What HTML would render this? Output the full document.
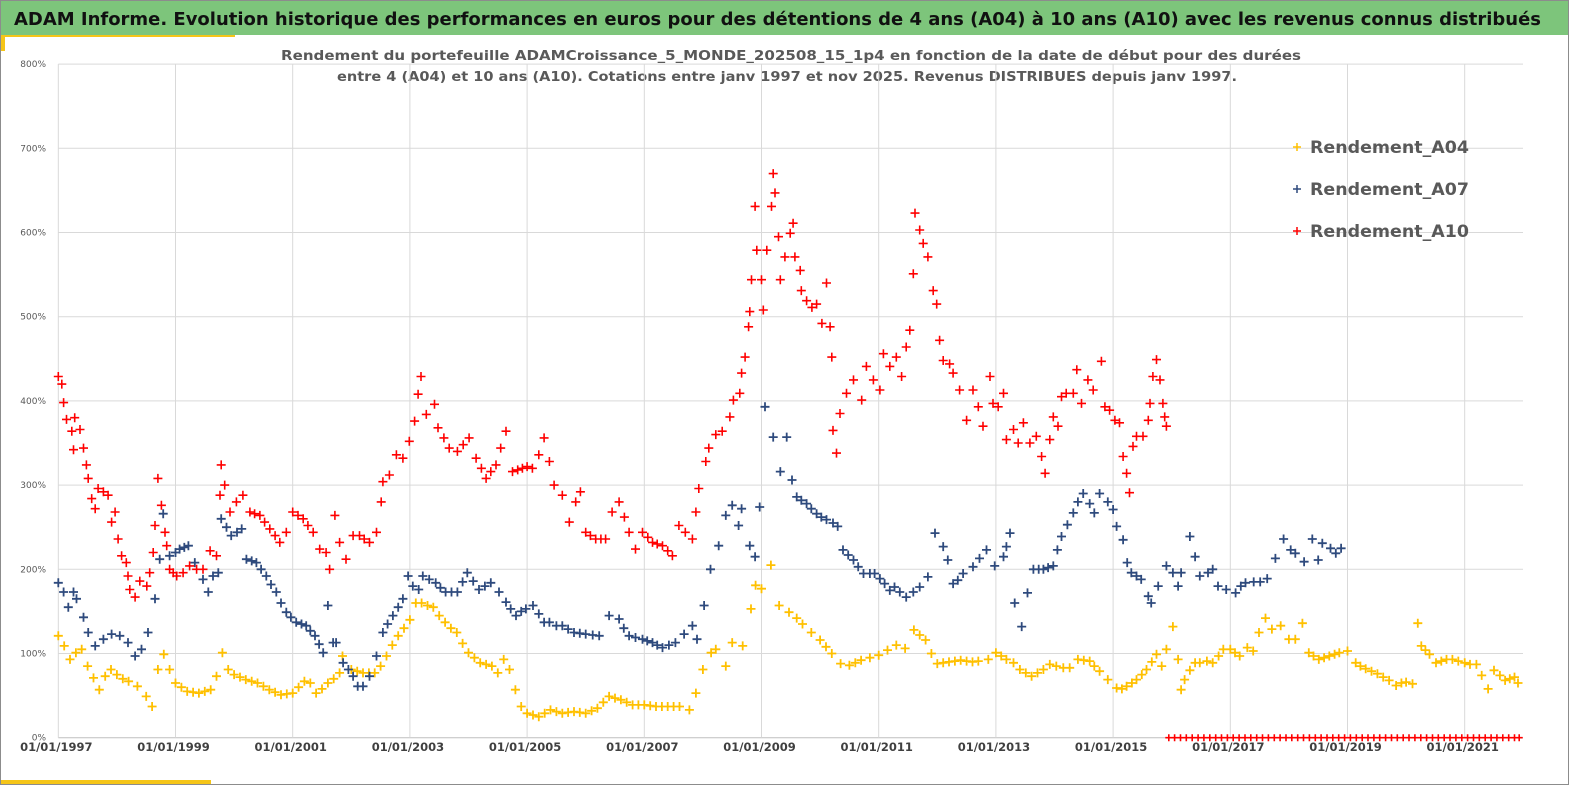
<!DOCTYPE html>
<html><head><meta charset="utf-8">
<style>
html,body{margin:0;padding:0;background:#fff;}
svg{display:block;}
</style></head>
<body>
<svg id="chart" width="1569" height="785" viewBox="0 0 1569 785" xmlns="http://www.w3.org/2000/svg">
  <rect x="0" y="0" width="1569" height="785" fill="#ffffff" stroke="#8c8c8c" stroke-width="2"/>
  <rect x="1" y="1" width="1567" height="34" fill="#7dc57b"/>
  <rect x="1" y="35" width="234" height="2" fill="#f5c518"/>
  <rect x="1" y="35" width="4" height="16" fill="#f5c518"/>
  <rect x="1" y="780" width="210" height="4" fill="#f5c518"/>
  <text x="14" y="25" font-family="DejaVu Sans, Liberation Sans, sans-serif" font-weight="bold" font-size="18" fill="#111" textLength="1527" lengthAdjust="spacingAndGlyphs">ADAM Informe. Evolution historique des performances en euros pour des détentions de 4 ans (A04) à 10 ans (A10) avec les revenus connus distribués</text>
  <text x="281" y="60" font-family="DejaVu Sans, Liberation Sans, sans-serif" font-weight="bold" font-size="13.5" fill="#595959" textLength="1020" lengthAdjust="spacingAndGlyphs">Rendement du portefeuille ADAMCroissance_5_MONDE_202508_15_1p4  en fonction de la date de début pour des durées</text>
  <text x="337" y="81" font-family="DejaVu Sans, Liberation Sans, sans-serif" font-weight="bold" font-size="13.5" fill="#595959" textLength="900" lengthAdjust="spacingAndGlyphs">entre 4 (A04) et 10 ans (A10). Cotations entre janv 1997 et nov 2025. Revenus DISTRIBUES depuis janv 1997.</text>
  <g id="grid"></g>
  <g id="yticks"></g>
  <g id="xticks"></g>
  <g id="series"></g>
  <g id="legend"></g>
</svg>
<script>
const yTicks = [0,100,200,300,400,500,600,700,800];
const xTickYears = [1997,1999,2001,2003,2005,2007,2009,2011,2013,2015,2017,2019,2021];
const xTickLabels = ["01/01/1997","01/01/1999","01/01/2001","01/01/2003","01/01/2005","01/01/2007","01/01/2009","01/01/2011","01/01/2013","01/01/2015","01/01/2017","01/01/2019","01/01/2021"];
const seriesNames = ["Rendement_A04","Rendement_A07","Rendement_A10"];

const a04Dates = [1997.0,1997.1,1997.2,1997.3,1997.4,1997.5,1997.6,1997.7,1997.8,1997.9,1998.0,1998.1,1998.2,1998.35,1998.5,1998.6,1998.7,1998.8,1998.9,1999.0,1999.1,1999.2,1999.3,1999.4,1999.5,1999.6,1999.7,1999.8,1999.9,2000.0,2000.1,2000.2,2000.3,2000.4,2000.5,2000.6,2000.7,2000.8,2000.9,2001.0,2001.1,2001.2,2001.3,2001.4,2001.5,2001.6,2001.7,2001.8,2001.85,2002.0,2002.1,2002.2,2002.3,2002.4,2002.5,2002.6,2002.7,2002.8,2002.9,2003.0,2003.1,2003.2,2003.3,2003.4,2003.5,2003.6,2003.7,2003.8,2003.9,2004.0,2004.1,2004.2,2004.3,2004.4,2004.5,2004.6,2004.7,2004.8,2004.9,2005.0,2005.1,2005.2,2005.3,2005.4,2005.5,2005.6,2005.7,2005.8,2005.9,2006.0,2006.1,2006.2,2006.3,2006.4,2006.5,2006.6,2006.7,2006.8,2006.9,2007.0,2007.1,2007.2,2007.3,2007.4,2007.5,2007.6,2007.77,2007.88,2008.0,2008.14,2008.22,2008.39,2008.5,2008.68,2008.82,2008.9,2009.0,2009.16,2009.3,2009.47,2009.6,2009.7,2009.85,2010.0,2010.1,2010.2,2010.35,2010.5,2010.6,2010.7,2010.85,2011.0,2011.15,2011.3,2011.45,2011.6,2011.7,2011.8,2011.9,2012.0,2012.1,2012.2,2012.3,2012.4,2012.5,2012.6,2012.7,2012.87,2013.0,2013.09,2013.18,2013.3,2013.41,2013.51,2013.61,2013.71,2013.81,2013.92,2014.03,2014.15,2014.26,2014.4,2014.5,2014.6,2014.68,2014.77,2014.91,2015.06,2015.15,2015.23,2015.32,2015.4,2015.49,2015.57,2015.66,2015.74,2015.83,2015.91,2016.02,2016.11,2016.16,2016.22,2016.31,2016.4,2016.48,2016.6,2016.7,2016.8,2016.88,2017.0,2017.08,2017.16,2017.29,2017.39,2017.49,2017.6,2017.71,2017.86,2018.0,2018.11,2018.23,2018.34,2018.42,2018.51,2018.6,2018.69,2018.78,2018.86,2019.0,2019.14,2019.22,2019.31,2019.41,2019.51,2019.61,2019.71,2019.83,2019.92,2020.0,2020.11,2020.2,2020.26,2020.33,2020.4,2020.51,2020.6,2020.69,2020.79,2020.89,2021.0,2021.09,2021.2,2021.29,2021.4,2021.5,2021.6,2021.69,2021.77,2021.85,2021.91];
const a04Values = [121,109,93,101,105,85,71,57,73,81,75,70,67,61,49,37,81,99,81,65,60,55,54,53,55,57,73,101,81,75,72,69,67,65,61,57,54,51,52,53,60,67,65,53,58,65,70,77,97,81,79,77,77,77,85,97,110,121,130,140,160,160,157,155,145,137,130,125,112,101,95,89,87,85,77,93,81,57,37,29,27,25,29,33,31,29,30,31,30,29,32,35,42,49,47,45,42,39,39,39,38,37,37,37,37,37,33,53,81,101,105,85,113,109,153,181,177,205,157,149,142,135,125,116,108,100,88,86,89,92,95,98,104,110,106,128,122,116,100,88,89,90,91,92,91,90,91,93,101,97,93,89,81,77,73,77,81,87,85,83,83,93,92,91,85,79,69,59,58,61,65,69,75,81,90,99,85,105,132,93,57,69,80,89,89,91,89,97,105,105,101,97,107,103,125,142,129,133,117,117,136,101,97,93,95,97,99,101,103,89,85,82,79,76,72,68,62,65,66,64,136,109,104,99,89,91,93,93,91,89,87,87,74,58,80,74,68,70,72,65,60];

const a07Dates = [1997.0,1997.09,1997.17,1997.26,1997.31,1997.43,1997.51,1997.63,1997.77,1997.91,1998.05,1998.19,1998.31,1998.42,1998.53,1998.65,1998.73,1998.79,1998.9,1999.0,1999.07,1999.15,1999.22,1999.33,1999.47,1999.56,1999.64,1999.73,1999.78,1999.87,1999.95,2000.05,2000.13,2000.21,2000.3,2000.38,2000.46,2000.55,2000.63,2000.72,2000.8,2000.89,2000.97,2001.06,2001.15,2001.23,2001.3,2001.38,2001.45,2001.52,2001.6,2001.69,2001.74,2001.86,2001.95,2002.03,2002.11,2002.2,2002.31,2002.43,2002.54,2002.62,2002.71,2002.8,2002.88,2002.97,2003.05,2003.15,2003.22,2003.33,2003.44,2003.52,2003.61,2003.71,2003.81,2003.9,2003.98,2004.08,2004.18,2004.28,2004.38,2004.52,2004.64,2004.72,2004.81,2004.9,2004.98,2005.1,2005.2,2005.29,2005.38,2005.5,2005.6,2005.7,2005.8,2005.9,2006.0,2006.12,2006.23,2006.4,2006.57,2006.65,2006.74,2006.85,2006.97,2007.05,2007.14,2007.22,2007.31,2007.42,2007.53,2007.68,2007.82,2007.9,2008.02,2008.13,2008.27,2008.39,2008.5,2008.61,2008.66,2008.8,2008.89,2008.97,2009.06,2009.2,2009.32,2009.43,2009.52,2009.6,2009.68,2009.77,2009.85,2009.94,2010.02,2010.11,2010.22,2010.3,2010.39,2010.48,2010.57,2010.65,2010.74,2010.85,2010.93,2011.02,2011.1,2011.19,2011.27,2011.36,2011.47,2011.59,2011.7,2011.84,2011.96,2012.1,2012.18,2012.27,2012.35,2012.44,2012.61,2012.72,2012.84,2012.98,2013.13,2013.18,2013.24,2013.32,2013.44,2013.54,2013.64,2013.73,2013.81,2013.89,2013.98,2014.05,2014.12,2014.22,2014.32,2014.4,2014.49,2014.6,2014.68,2014.77,2014.91,2015.0,2015.06,2015.17,2015.24,2015.31,2015.4,2015.48,2015.6,2015.65,2015.77,2015.91,2016.02,2016.11,2016.16,2016.31,2016.4,2016.48,2016.62,2016.7,2016.79,2016.93,2017.09,2017.18,2017.26,2017.4,2017.51,2017.63,2017.77,2017.91,2018.03,2018.11,2018.26,2018.4,2018.5,2018.57,2018.71,2018.8,2018.89];
const a07Values = [184,173,155,173,165,143,125,109,117,123,121,113,97,105,125,165,212,266,216,220,224,226,228,208,188,173,192,196,260,250,240,244,248,212,210,208,200,192,182,173,160,149,143,137,135,133,127,121,111,101,157,113,113,89,81,73,61,61,73,97,125,135,145,155,165,192,180,176,192,188,184,178,173,173,173,185,196,186,176,180,184,173,161,153,145,150,153,157,147,137,137,133,133,129,125,124,123,122,121,145,141,130,121,119,117,115,113,110,107,110,113,123,133,117,157,200,228,264,276,252,272,228,215,274,393,357,316,357,306,286,282,278,272,266,262,259,255,251,223,217,211,203,195,195,195,189,183,175,179,173,167,173,179,191,243,227,211,183,187,195,203,213,223,204,215,227,243,160,132,172,200,200,200,202,204,223,239,253,267,280,290,278,267,290,280,271,251,235,208,196,192,188,168,160,180,204,196,180,196,239,215,192,196,200,180,176,172,180,184,185,185,189,213,236,223,219,209,236,211,231,225,219,225,244,229];

const a10Dates = [1997.0,1997.06,1997.09,1997.14,1997.23,1997.26,1997.28,1997.37,1997.43,1997.48,1997.51,1997.57,1997.63,1997.68,1997.77,1997.85,1997.91,1997.97,1998.02,1998.08,1998.16,1998.19,1998.22,1998.31,1998.39,1998.51,1998.56,1998.62,1998.65,1998.7,1998.76,1998.82,1998.85,1998.9,1998.96,1999.02,1999.13,1999.24,1999.36,1999.47,1999.59,1999.7,1999.76,1999.78,1999.84,1999.93,2000.04,2000.15,2000.27,2000.35,2000.44,2000.52,2000.61,2000.7,2000.78,2000.89,2001.0,2001.09,2001.18,2001.26,2001.35,2001.46,2001.57,2001.63,2001.72,2001.8,2001.91,2002.03,2002.14,2002.22,2002.31,2002.43,2002.51,2002.54,2002.65,2002.77,2002.88,2002.99,2003.08,2003.14,2003.19,2003.28,2003.42,2003.48,2003.58,2003.67,2003.81,2003.91,2004.01,2004.13,2004.22,2004.3,2004.38,2004.47,2004.55,2004.64,2004.75,2004.84,2004.92,2005.0,2005.09,2005.2,2005.29,2005.38,2005.46,2005.6,2005.72,2005.83,2005.91,2006.0,2006.08,2006.17,2006.26,2006.34,2006.45,2006.57,2006.66,2006.74,2006.85,2006.97,2007.06,2007.14,2007.22,2007.31,2007.4,2007.48,2007.59,2007.7,2007.82,2007.88,2007.93,2008.05,2008.1,2008.22,2008.33,2008.46,2008.52,2008.63,2008.66,2008.72,2008.78,2008.8,2008.83,2008.89,2008.92,2009.0,2009.03,2009.09,2009.17,2009.2,2009.23,2009.29,2009.32,2009.4,2009.49,2009.54,2009.57,2009.66,2009.68,2009.77,2009.86,2009.94,2010.03,2010.11,2010.17,2010.2,2010.22,2010.28,2010.34,2010.45,2010.57,2010.71,2010.79,2010.91,2011.02,2011.08,2011.19,2011.3,2011.39,2011.47,2011.53,2011.59,2011.62,2011.7,2011.76,2011.84,2011.93,2011.99,2012.04,2012.1,2012.21,2012.27,2012.38,2012.5,2012.61,2012.7,2012.78,2012.9,2012.95,2013.04,2013.13,2013.18,2013.3,2013.38,2013.47,2013.58,2013.69,2013.78,2013.84,2013.92,2013.98,2014.06,2014.12,2014.2,2014.32,2014.38,2014.46,2014.57,2014.66,2014.8,2014.86,2014.94,2015.03,2015.11,2015.17,2015.23,2015.28,2015.34,2015.4,2015.51,2015.6,2015.63,2015.68,2015.74,2015.8,2015.85,2015.88,2015.91];
const a10Values = [429,420,398,378,364,342,380,366,344,324,308,284,272,296,292,288,256,268,236,216,208,192,176,167,186,180,196,220,252,308,276,244,228,200,196,192,196,204,200,200,222,216,288,324,300,268,280,288,268,266,264,256,248,240,232,244,268,264,260,252,244,224,220,200,264,232,212,240,240,236,232,244,280,304,312,336,332,352,376,408,429,384,396,368,356,344,340,348,356,332,320,308,316,324,344,364,316,318,320,322,320,336,356,328,300,288,256,280,292,244,240,236,236,236,268,280,262,244,224,244,238,232,230,228,222,216,252,244,236,268,296,328,344,360,364,381,401,409,433,452,488,506,544,631,579,544,508,579,631,670,647,595,544,571,599,611,571,555,531,519,511,515,492,540,488,452,365,338,385,409,425,401,441,425,413,456,441,452,429,464,484,551,623,603,587,571,531,515,472,448,444,433,413,377,413,393,370,429,397,393,409,354,366,350,374,350,358,334,314,354,381,370,405,409,409,437,397,425,413,447,393,389,377,374,334,314,291,346,358,358,377,397,429,449,425,397,381,370];

const a10ZeroDates = [2015.95,2016.05,2016.15,2016.25,2016.35,2016.45,2016.55,2016.65,2016.75,2016.85,2016.95,2017.05,2017.15,2017.25,2017.35,2017.45,2017.55,2017.65,2017.75,2017.85,2017.95,2018.05,2018.15,2018.25,2018.35,2018.45,2018.55,2018.65,2018.75,2018.85,2018.95,2019.05,2019.15,2019.25,2019.35,2019.45,2019.55,2019.65,2019.75,2019.85,2019.95,2020.05,2020.15,2020.25,2020.35,2020.45,2020.55,2020.65,2020.75,2020.85,2020.95,2021.05,2021.15,2021.25,2021.35,2021.45,2021.55,2021.65,2021.75,2021.85,2021.93];
const a10ZeroValues = [0,0,0,0,0,0,0,0,0,0,0,0,0,0,0,0,0,0,0,0,0,0,0,0,0,0,0,0,0,0,0,0,0,0,0,0,0,0,0,0,0,0,0,0,0,0,0,0,0,0,0,0,0,0,0,0,0,0,0,0,0];

const NS = "http://www.w3.org/2000/svg";
const PLOT_L = 58.3, PLOT_R = 1523, PX_PER_YEAR = 58.6;
const Y0 = 737.7, PX_PER_PCT = 0.842;
function xScale(yr){ return PLOT_L + (yr - 1997) * PX_PER_YEAR; }
function yScale(v){ return Y0 - v * PX_PER_PCT; }
function mk(tag, attrs){ const e = document.createElementNS(NS, tag); for (const k in attrs) e.setAttribute(k, attrs[k]); return e; }

const grid = document.getElementById('grid');
yTicks.forEach(function(v){
  const l = mk('line', {x1: PLOT_L, x2: PLOT_R, y1: yScale(v), y2: yScale(v), stroke: v === 0 ? '#bfbfbf' : '#d9d9d9', 'stroke-width': 1});
  
  
  grid.appendChild(l);
});
xTickYears.forEach(function(yr){
  const l = mk('line', {x1: xScale(yr), x2: xScale(yr), y1: yScale(800), y2: yScale(0), stroke: '#d9d9d9', 'stroke-width': 1});
  
  
  grid.appendChild(l);
});

const yt = document.getElementById('yticks');
yTicks.forEach(function(v){
  const t = mk('text', {x: 46, y: yScale(v) + 3, 'text-anchor': 'end', 'font-family': 'DejaVu Sans, Liberation Sans, sans-serif', 'font-size': 9, fill: '#595959'});
  t.textContent = v + '%';
  
  
  yt.appendChild(t);
});
const xt = document.getElementById('xticks');
xTickYears.forEach(function(yr, i){
  const t = mk('text', {x: xScale(yr) - 2, y: 751, 'text-anchor': 'middle', 'font-family': 'DejaVu Sans, Liberation Sans, sans-serif', 'font-weight': 'bold', 'font-size': 11.5, fill: '#404040'});
  t.textContent = xTickLabels[i];
  
  
  xt.appendChild(t);
});

function plusPath(dates, values, half){
  let d = '';
  for (let i = 0; i < dates.length; i++){
    const x = xScale(dates[i]), y = yScale(values[i]);
    d += 'M' + (x - half).toFixed(1) + ' ' + y.toFixed(1) + 'h' + (2 * half) + 'M' + x.toFixed(1) + ' ' + (y - half).toFixed(1) + 'v' + (2 * half);
  }
  return d;
}
const ser = document.getElementById('series');
const p4 = mk('path', {d: plusPath(a04Dates, a04Values, 4.5), stroke: '#ffc000', 'stroke-width': 1.8, fill: 'none'});


ser.appendChild(p4);
const p7 = mk('path', {d: plusPath(a07Dates, a07Values, 4.5), stroke: '#2e4a7d', 'stroke-width': 1.8, fill: 'none'});


ser.appendChild(p7);
const p10 = mk('path', {d: plusPath(a10Dates, a10Values, 4.5), stroke: '#ff0000', 'stroke-width': 1.6, fill: 'none'});


ser.appendChild(p10);
const p10z = mk('path', {d: plusPath(a10ZeroDates, a10ZeroValues, 3.5), stroke: '#ff0000', 'stroke-width': 1.6, fill: 'none'});


ser.appendChild(p10z);

const legendColors = ['#ffc000', '#2e4a7d', '#ff0000'];
const legendY = [147, 189, 231];
const lg = document.getElementById('legend');
seriesNames.forEach(function(n, i){
  const g = mk('g', {});
  
  
  const m = mk('path', {d: 'M1293 ' + legendY[i] + 'h8M1297 ' + (legendY[i] - 4) + 'v8', stroke: legendColors[i], 'stroke-width': 1.5});
  
  
  g.appendChild(m);
  const t = mk('text', {x: 1310, y: legendY[i] + 6, 'font-family': 'DejaVu Sans, Liberation Sans, sans-serif', 'font-weight': 'bold', 'font-size': 16.5, fill: '#595959', textLength: 159, lengthAdjust: 'spacingAndGlyphs'});
  t.textContent = n;
  
  
  g.appendChild(t);
  lg.appendChild(g);
});
</script>
</body></html>
